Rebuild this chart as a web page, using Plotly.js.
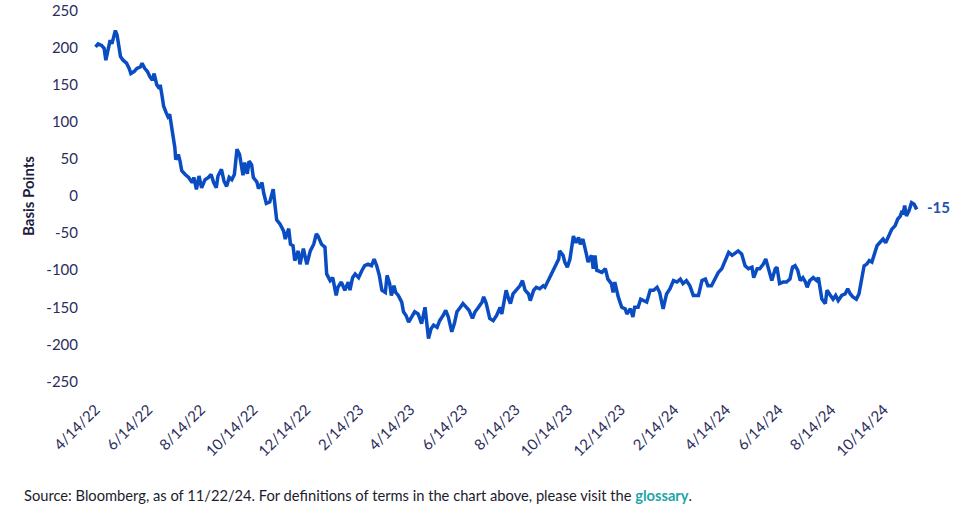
<!DOCTYPE html>
<html>
<head>
<meta charset="utf-8">
<script src="https://cdn.plot.ly/plotly-3.0.1.min.js"></script>
<style>html,body{margin:0;padding:0;background:#fff;}#chart{width:961px;height:516px;}</style>
</head>
<body>
<div id="chart"></div>
<script>
// Days since the first observation (2022-04-14) and spread in basis points
const startDate = '2022-04-14';
const dayOffsets = [0,3,7,10,12,14,17,19,21,23,25,28,29,32,36,39,41,45,48,52,54,57,60,63,66,68,71,74,75,77,79,82,84,86,88,90,92,93,96,98,100,104,108,112,114,117,120,123,127,131,134,137,140,142,146,149,152,155,158,161,164,167,169,171,173,176,178,181,183,187,189,193,195,198,202,206,210,214,218,220,224,226,229,231,235,237,241,245,249,253,256,258,262,266,268,272,275,279,281,285,289,293,295,298,301,305,309,312,316,320,323,326,329,332,336,338,341,343,346,348,351,355,357,360,363,367,370,374,378,382,384,386,389,392,396,399,403,406,409,413,416,419,423,426,430,433,437,440,444,448,450,453,457,461,465,469,471,476,479,481,484,488,492,495,498,502,504,508,511,515,519,521,525,529,533,537,538,542,544,547,550,554,557,560,562,565,569,571,575,577,579,581,587,591,594,598,600,602,606,610,614,616,620,623,625,629,632,635,639,643,647,651,654,658,662,666,670,674,678,681,685,689,693,699,703,707,710,714,718,722,726,728,730,734,738,741,745,749,753,757,761,763,767,770,774,777,780,784,788,790,793,797,801,805,808,811,814,817,820,823,825,828,832,836,838,842,846,848,852,855,858,861,865,869,872,875,878,882,885,888,891,894,897,900,903,906,909,913,916,919,923,927,930,933,935,936,938,940,943,946,949,951,953];
const spreadBps = [201,205,203,199,183,194,210,205,214,223,217,194,188,183,179,172,165,168,172,174,179,172,168,161,156,165,150,145,150,136,121,112,107,110,94,83,65,49,56,47,34,29,25,18,25,9,27,11,22,25,29,18,11,27,36,20,13,25,22,29,63,56,38,28,45,30,47,42,25,19,10,18,4,-10,-8,9,-32,-38,-47,-58,-44,-65,-67,-87,-74,-92,-71,-92,-74,-65,-51,-54,-65,-69,-105,-114,-110,-134,-123,-116,-127,-116,-127,-110,-105,-110,-100,-94,-92,-94,-85,-94,-107,-127,-130,-107,-118,-134,-121,-130,-134,-143,-156,-161,-170,-161,-156,-159,-172,-150,-177,-192,-179,-174,-177,-168,-161,-154,-163,-183,-172,-156,-150,-145,-150,-154,-165,-156,-150,-143,-136,-145,-165,-168,-161,-150,-159,-127,-139,-145,-132,-127,-121,-114,-127,-132,-141,-127,-123,-125,-121,-123,-114,-105,-94,-85,-74,-80,-89,-96,-85,-54,-63,-56,-65,-58,-78,-89,-80,-98,-80,-100,-103,-98,-112,-118,-130,-116,-136,-150,-152,-159,-152,-163,-150,-150,-139,-141,-143,-127,-127,-123,-130,-152,-132,-125,-114,-116,-112,-118,-114,-121,-134,-134,-114,-112,-121,-121,-112,-103,-98,-92,-85,-76,-80,-78,-74,-78,-94,-98,-96,-110,-98,-98,-92,-85,-96,-114,-98,-96,-118,-116,-116,-112,-96,-94,-100,-114,-110,-116,-123,-114,-110,-114,-110,-139,-145,-127,-134,-139,-134,-141,-134,-132,-125,-132,-136,-139,-132,-114,-94,-92,-87,-89,-78,-67,-63,-58,-63,-54,-45,-40,-31,-27,-20,-25,-13,-27,-20,-9,-11,-16,-15];
const tickDates = ['2022-04-14','2022-06-14','2022-08-14','2022-10-14','2022-12-14','2023-02-14','2023-04-14','2023-06-14','2023-08-14','2023-10-14','2023-12-14','2024-02-14','2024-04-14','2024-06-14','2024-08-14','2024-10-14'];
const tickLabels = ['4/14/22','6/14/22','8/14/22','10/14/22','12/14/22','2/14/23','4/14/23','6/14/23','8/14/23','10/14/23','12/14/23','2/14/24','4/14/24','6/14/24','8/14/24','10/14/24'];
const yTickVals = [250,200,150,100,50,0,-50,-100,-150,-200,-250];
const yTickLabels = ['250','200','150','100','50','0','-50','-100','-150','-200','-250'];
const lastLabel = '-15';
const yTitle = 'Basis Points';
const sourceText = 'Source: Bloomberg, as of 11/22/24. For definitions of terms in the chart above, please visit the ';
const linkText = 'glossary';

const t0 = Date.parse(startDate + 'T00:00:00Z');
const dates = dayOffsets.map(d => new Date(t0 + d * 86400000).toISOString().slice(0, 10));

const lineColor = '#0a4cc2';
const tickColor = '#2b2d5c';
const font = 'Lato, "Open Sans", sans-serif';

const trace = {
  x: dates, y: spreadBps, type: 'scatter', mode: 'lines',
  line: {color: lineColor, width: 3.5},
  hoverinfo: 'x+y'
};

const layout = {
  width: 961, height: 516,
  margin: {l: 85, r: 36, t: 9, b: 133},
  paper_bgcolor: '#ffffff', plot_bgcolor: '#ffffff',
  showlegend: false,
  font: {family: font, size: 14, color: tickColor},
  xaxis: {
    type: 'date',
    range: ['2022-04-01 20:00', '2024-11-30 14:00'],
    tickmode: 'array', tickvals: tickDates, ticktext: tickLabels,
    tickangle: -45, showgrid: false, zeroline: false, showline: false, ticks: '',
    ticklabelstandoff: 14,
    tickfont: {family: font, size: 15, color: tickColor}
  },
  yaxis: {
    range: [-252, 252],
    tickmode: 'array', tickvals: yTickVals, ticktext: yTickLabels,
    showgrid: false, zeroline: false, showline: false, ticks: '',
    ticklabelstandoff: 6, ticklabeloverflow: 'allow',
    tickfont: {family: font, size: 15, color: tickColor},
    title: {text: '<b>' + yTitle + '</b>', font: {family: font, size: 15, color: '#1b1c3d'}, standoff: 8}
  },
  annotations: [
    {x: dates[dates.length - 1], y: spreadBps[spreadBps.length - 1], xref: 'x', yref: 'y',
     text: '<b>' + lastLabel + '</b>', showarrow: false, xanchor: 'left', yanchor: 'middle', xshift: 7,
     font: {family: font, size: 15, color: '#1f4fb5'}},
    {x: 0, y: -0.30, xref: 'paper', yref: 'paper', xanchor: 'left', yanchor: 'middle', xshift: -63,
     text: sourceText + '<span style="color:#1ea5a8"><b>' + linkText + '</b></span>.',
     showarrow: false, font: {family: font, size: 14.7, color: '#1b1c2e'}}
  ]
};

Plotly.newPlot('chart', [trace], layout, {displayModeBar: false, responsive: false});
</script>
</body>
</html>
